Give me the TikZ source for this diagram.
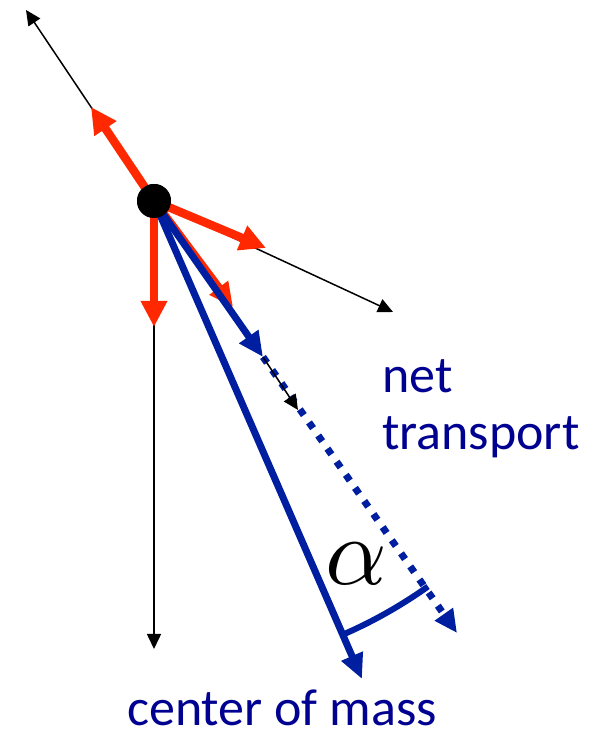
\documentclass[tikz,border=0pt]{standalone}
\usepackage{fontspec}
\setmainfont{Carlito}
\usepackage{unicode-math}
\usetikzlibrary{arrows.meta}
\definecolor{fred}{RGB}{255,40,0}
\definecolor{fblue}{RGB}{0,30,160}
\definecolor{tblue}{RGB}{0,0,145}
\tikzset{
  thinarrow/.style={line width=1.5pt, black, -{Triangle[length=15pt,width=14pt]}},
  redarrow/.style={line width=8.5pt, fred, -{Triangle[length=26pt,width=25pt]}},
  bluearrow/.style={line width=7pt, fblue, -{Triangle[length=25pt,width=22pt]}},
  bluedots/.style={line width=7pt, fblue, dash pattern=on 7pt off 9pt, -{Triangle[length=23pt,width=21pt]}},
  lbl/.style={text=tblue, font=\fontsize{52}{57}\selectfont, inner sep=0pt},
}
\begin{document}
\begin{tikzpicture}[x=1pt,y=1pt]
\useasboundingbox (0,0) rectangle (589,730);
\node[circle, fill=black, minimum size=34pt, inner sep=0pt] (O) at (154,529) {};
\coordinate (A1) at (26,720);
\coordinate (R1) at (91,623);
\coordinate (R2) at (266,482);
\coordinate (A2) at (393,418);
\coordinate (R3) at (154,403);
\coordinate (A3) at (154,81);
\coordinate (R4) at (233,423);
\coordinate (N) at (263,373);
\coordinate (NT) at (457,97);
\coordinate (A4) at (298,320);
\coordinate (C) at (362,51);
% thin black arrows
\draw[thinarrow] (O.center) -- (A1);
\draw[thinarrow] (O.center) -- (A2);
\draw[thinarrow] (O.center) -- (A3);
% red arrows
\draw[redarrow] (O.center) -- (R1);
\draw[redarrow] (O.center) -- (R2);
\draw[redarrow] (O.center) -- (R3);
\draw[redarrow, -{Triangle[length=24pt,width=22pt]}] (O.center) -- (R4);
% blue
\draw[bluedots] (N) -- (NT);
\draw[bluearrow] (O.center) -- (N);
\draw[thinarrow] (N) -- (A4);
\draw[bluearrow] (O.center) -- (C);
\draw[fblue, line width=6pt] (O.center) ++(-66.3:473) arc[start angle=-66.3, end angle=-54.6, radius=473];
\node[circle, fill=black, minimum size=34pt, inner sep=0pt] at (O) {};
% labels
\node[inner sep=0pt] (alpha) at (356,166) {\fontsize{96}{96}\selectfont$\alpha$};
\node[lbl, anchor=base west, align=left] (net) at (382,280) {net\\transport};
\node[lbl, anchor=base west] (com) at (127,5) {center of mass};
\end{tikzpicture}
\end{document}
